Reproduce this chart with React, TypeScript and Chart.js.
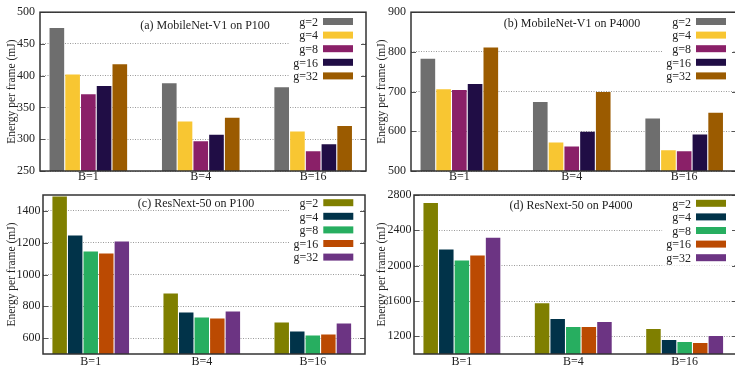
import { useEffect, useRef } from "react";
import { Chart, registerables } from "chart.js";

Chart.register(...registerables);

// ---------- data ----------
const categories = ["B=1", "B=4", "B=16"];
const groupLabels = ["g=2", "g=4", "g=8", "g=16", "g=32"];

// (a) MobileNet-V1 on P100
const mobP100_g2 = [475, 388, 382];
const mobP100_g4 = [402, 328, 312];
const mobP100_g8 = [371, 297, 281];
const mobP100_g16 = [384, 307, 292];
const mobP100_g32 = [418, 334, 321];
const mobP100_ticks = [250, 300, 350, 400, 450, 500];

// (b) MobileNet-V1 on P4000
const mobP4000_g2 = [783, 674, 632];
const mobP4000_g4 = [706, 572, 552];
const mobP4000_g8 = [704, 562, 550];
const mobP4000_g16 = [719, 599, 592];
const mobP4000_g32 = [811, 699, 647];
const mobP4000_ticks = [500, 600, 700, 800, 900];

// (c) ResNext-50 on P100
const resP100_g2 = [1490, 881, 698];
const resP100_g4 = [1245, 761, 642];
const resP100_g8 = [1144, 730, 617];
const resP100_g16 = [1132, 724, 623];
const resP100_g32 = [1207, 768, 692];
const resP100_ticks = [600, 800, 1000, 1200, 1400];

// (d) ResNext-50 on P4000
const resP4000_g2 = [2710, 1575, 1282];
const resP4000_g4 = [2182, 1395, 1159];
const resP4000_g8 = [2058, 1305, 1136];
const resP4000_g16 = [2114, 1305, 1125];
const resP4000_g32 = [2317, 1361, 1204];
const resP4000_ticks = [1200, 1600, 2000, 2400, 2800];

// ---------- styles ----------
const mobColors = ["#6e6e6e", "#f8c632", "#8a2068", "#200d45", "#9b5b00"];
const resColors = ["#7f7f00", "#013349", "#27ae60", "#bb4a02", "#6c3483"];
const FONT = "'Liberation Serif', 'Times New Roman', serif";
const TEXT = "#222";

type PanelCfg = {
  title: string;
  series: number[][];
  colors: string[];
  min: number;
  max: number;
  ticks: number[];
  left: number;
  top: number;
  width: number;
  height: number;
  yAxisW: number;
  xAxisH: number;
  padTop: number;
  padRight: number;
  yTitlePad: number;
  yTickPad: number;
  xTickPad: number;
  titleDx: number;
  titleDy: number;
  legendTop: number;
  legendRight: number;
};

const panels: PanelCfg[] = [
  {
    title: "(a) MobileNet-V1 on P100",
    series: [mobP100_g2, mobP100_g4, mobP100_g8, mobP100_g16, mobP100_g32],
    colors: mobColors, min: 250, max: 500, ticks: mobP100_ticks,
    left: 0, top: 0, width: 368, height: 186,
    yAxisW: 40, xAxisH: 15, padTop: 10, padRight: 2,
    yTitlePad: 4.8, yTickPad: 5, xTickPad: -1.5,
    titleDx: 2, titleDy: 14, legendTop: 9.3, legendRight: 13,
  },
  {
    title: "(b) MobileNet-V1 on P4000",
    series: [mobP4000_g2, mobP4000_g4, mobP4000_g8, mobP4000_g16, mobP4000_g32],
    colors: mobColors, min: 500, max: 900, ticks: mobP4000_ticks,
    left: 368, top: 0, width: 372, height: 186,
    yAxisW: 43, xAxisH: 15, padTop: 10, padRight: 3,
    yTitlePad: 7.3, yTickPad: 5, xTickPad: -1.5,
    titleDx: -2, titleDy: 12, legendTop: 9.3, legendRight: 11,
  },
  {
    title: "(c) ResNext-50 on P100",
    series: [resP100_g2, resP100_g4, resP100_g8, resP100_g16, resP100_g32],
    colors: resColors, min: 500, max: 1500, ticks: resP100_ticks,
    left: 0, top: 185, width: 368, height: 182,
    yAxisW: 43, xAxisH: 13, padTop: 10, padRight: 3,
    yTitlePad: 4.8, yTickPad: 2.5, xTickPad: 0.5,
    titleDx: -8, titleDy: 9, legendTop: 7.7, legendRight: 11.7,
  },
  {
    title: "(d) ResNext-50 on P4000",
    series: [resP4000_g2, resP4000_g4, resP4000_g8, resP4000_g16, resP4000_g32],
    colors: resColors, min: 1000, max: 2800, ticks: resP4000_ticks,
    left: 368, top: 185, width: 372, height: 182,
    yAxisW: 46, xAxisH: 13, padTop: 10, padRight: 3,
    yTitlePad: 7.1, yTickPad: 2.5, xTickPad: 0.5,
    titleDx: -4.5, titleDy: 10.7, legendTop: 8.3, legendRight: 11,
  },
];

const decorPlugin = {
  id: "decor",
  afterDatasetsDraw(chart: any, _args: any, opts: any) {
    const { ctx, chartArea: a } = chart;
    const swW = 30;
    const swH = 7;
    const rowDy = 13.6;
    const swR = a.right - opts.legendRight;
    const swL = swR - swW;
    const y0 = a.top + opts.legendTop;
    ctx.save();
    ctx.font = `12px ${FONT}`;
    const maxW = Math.max(
      ...chart.data.datasets.map((d: any) => ctx.measureText(d.label).width)
    );
    const boxL = swL - 5 - maxW - 4;
    ctx.fillStyle = "#fff";
    ctx.fillRect(boxL, a.top + 1, a.right - 4 - boxL, y0 + rowDy * 4 + 7 - a.top);
    chart.data.datasets.forEach((d: any, i: number) => {
      const y = y0 + i * rowDy;
      ctx.fillStyle = TEXT;
      ctx.textAlign = "right";
      ctx.textBaseline = "middle";
      ctx.fillText(d.label, swL - 5, y + 1.2);
      ctx.fillStyle = d.backgroundColor;
      ctx.fillRect(swL, y - swH / 2, swW, swH);
    });
    ctx.restore();
  },
  afterDraw(chart: any, _args: any, opts: any) {
    const { ctx, chartArea: a } = chart;
    const ys = chart.scales.y;
    ctx.save();
    // inner tick marks
    ctx.strokeStyle = "#555";
    ctx.lineWidth = 1;
    ys.ticks.forEach((t: any) => {
      const y = Math.round(ys.getPixelForValue(t.value)) + 0.5;
      ctx.beginPath();
      ctx.moveTo(a.left, y);
      ctx.lineTo(a.left + 5, y);
      ctx.moveTo(a.right - 5, y);
      ctx.lineTo(a.right, y);
      ctx.stroke();
    });
    // frame
    ctx.strokeStyle = "#333";
    ctx.lineWidth = 1.5;
    ctx.strokeRect(a.left, a.top, a.right - a.left, a.bottom - a.top);
    // title inside plot
    ctx.fillStyle = TEXT;
    ctx.font = `12px ${FONT}`;
    ctx.textAlign = "center";
    ctx.textBaseline = "middle";
    ctx.fillText(opts.title, (a.left + a.right) / 2 + opts.titleDx, a.top + opts.titleDy);
    ctx.restore();
  },
};

function makeChart(canvas: HTMLCanvasElement, p: PanelCfg) {
  return new Chart(canvas, {
    type: "bar",
    data: {
      datasets: p.series.map((vals, si) => ({
        label: groupLabels[si],
        data: vals.map((v, i) => ({ x: i, y: v })),
        backgroundColor: p.colors[si],
        borderWidth: 0,
        categoryPercentage: 0.7,
        barPercentage: 0.93,
      })),
    },
    options: {
      responsive: false,
      animation: false,
      events: [],
      layout: { padding: { top: p.padTop, right: p.padRight, left: 0, bottom: 0 } },
      plugins: {
        legend: { display: false },
        tooltip: { enabled: false },
        decor: {
          title: p.title,
          titleDx: p.titleDx,
          titleDy: p.titleDy,
          legendTop: p.legendTop,
          legendRight: p.legendRight,
        },
      } as any,
      scales: {
        x: {
          type: "linear",
          offset: false,
          min: -0.43,
          max: 2.47,
          grid: { display: false, drawTicks: false, offset: false },
          border: { display: false },
          afterBuildTicks: (s: any) => {
            s.ticks = categories.map((_, i) => ({ value: i }));
          },
          afterFit: (s: any) => {
            s.height = p.xAxisH;
          },
          ticks: {
            padding: p.xTickPad,
            autoSkip: false,
            maxRotation: 0,
            color: TEXT,
            font: { family: FONT, size: 12 },
            callback: (v: any) => categories[v as number] ?? "",
          },
        },
        y: {
          type: "linear",
          min: p.min,
          max: p.max,
          afterBuildTicks: (s: any) => {
            s.ticks = p.ticks.map((v) => ({ value: v }));
          },
          afterFit: (s: any) => {
            s.width = p.yAxisW;
          },
          grid: { color: "#9a9a9a", lineWidth: 1, drawTicks: false },
          border: { display: false, dash: [1, 1.5] },
          ticks: {
            padding: p.yTickPad,
            color: TEXT,
            font: { family: FONT, size: 12 },
            callback: (v: any) => String(v),
          },
          title: {
            display: true,
            text: "Energy per frame (mJ)",
            color: TEXT,
            font: { family: FONT, size: 11.5 },
            padding: { top: p.yTitlePad, bottom: 0 },
          },
        },
      },
    } as any,
    plugins: [decorPlugin as any],
  });
}

function Panel({ p }: { p: PanelCfg }) {
  const ref = useRef<HTMLCanvasElement | null>(null);
  useEffect(() => {
    if (!ref.current) return;
    const c = makeChart(ref.current, p);
    return () => c.destroy();
  }, [p]);
  return (
    <div style={{ position: "absolute", left: p.left, top: p.top, width: p.width, height: p.height }}>
      <canvas
        ref={ref}
        width={p.width}
        height={p.height}
        style={{ display: "block", width: p.width, height: p.height }}
      />
    </div>
  );
}

export default function App() {
  return (
    <div
      style={{
        position: "fixed",
        left: 0,
        top: 0,
        width: 735,
        height: 367,
        overflow: "hidden",
        background: "#fff",
      }}
    >
      {panels.map((p, i) => (
        <Panel key={i} p={p} />
      ))}
    </div>
  );
}
